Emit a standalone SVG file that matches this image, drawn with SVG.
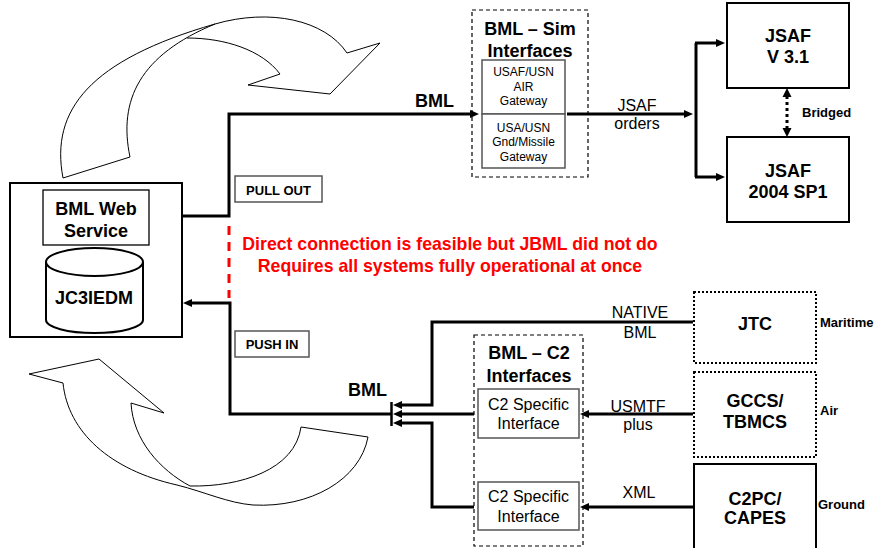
<svg xmlns="http://www.w3.org/2000/svg" width="878" height="548" viewBox="0 0 878 548">
<defs>
<style>
text{font-family:"Liberation Sans",Arial,sans-serif;fill:#000}
.b{font-weight:bold}
.t18{font-size:18px;font-weight:bold;text-anchor:middle}
.t16{font-size:16px;text-anchor:middle}
.t12{font-size:12px;text-anchor:middle}
.t13{font-size:13px;font-weight:bold}
.box{fill:#fff;stroke:#000;stroke-width:2}
.thin{fill:#fff;stroke:#000;stroke-width:1.3}
.gray{fill:#fff;stroke:#555;stroke-width:1.5}
.dash{fill:#fff;stroke:#000;stroke-width:1.2;stroke-dasharray:4 3}
.dot{fill:#fff;stroke:#000;stroke-width:2;stroke-dasharray:2 2}
.con{fill:none;stroke:#000;stroke-width:3}
.curve{fill:none;stroke:#000;stroke-width:1}
</style>
<marker id="ah" viewBox="0 0 9 8" refX="3" refY="4" markerWidth="9" markerHeight="8" markerUnits="userSpaceOnUse" orient="auto">
<path d="M0,0 L9,4 L0,8 z" fill="#000"/>
</marker>
</defs>
<rect width="878" height="548" fill="#fff"/>

<g id="curved-arrows">
<path class="curve" d="M63,178 C50,110 90,60 215,24"/>
<path class="curve" d="M130,157 C118,100 140,55 215,24"/>
<path class="curve" d="M215,24 C270,8 325,20 347,53"/>
<path class="curve" d="M187,38 C225,38 262,50 280,74"/>
<path class="curve" d="M347,53 L380,43 L330,94 L248,85 L280,74"/>
<path class="curve" d="M63,178 L130,157"/>
<path class="curve" d="M63,383 C68,432 110,470 177,485 C205,492 228,503 253,505 C310,508 360,480 368,437"/>
<path class="curve" d="M131,403 C133,440 160,470 190,486 C240,487 295,470 301,427"/>
<path class="curve" d="M63,383 L29,374 L99,359 L164,413 L131,403"/>
<path class="curve" d="M301,427 L368,437"/>
</g>

<g id="bml-web-service">
<rect class="box" x="10" y="183" width="172" height="154"/>
<rect class="thin" x="43" y="190" width="106" height="55"/>
<text x="96" y="215" class="t18">BML Web</text>
<text x="96" y="237" class="t18">Service</text>
<path d="M46,262 V320 A48.5,13 0 0 0 143,320 V262" fill="#fff" stroke="#000" stroke-width="2"/>
<ellipse cx="94.5" cy="262" rx="48.5" ry="14" fill="#fff" stroke="#000" stroke-width="2"/>
<text x="94" y="304" class="t18">JC3IEDM</text>
</g>

<g id="pull-out">
<rect class="gray" x="235" y="176" width="87" height="26"/>
<text x="278.5" y="195" class="t13" text-anchor="middle">PULL OUT</text>
</g>

<g id="push-in">
<rect class="gray" x="235" y="331" width="74" height="26"/>
<text x="272" y="349" class="t13" text-anchor="middle">PUSH IN</text>
</g>

<g id="note">
<text x="450" y="249.5" font-size="17.7" class="b" text-anchor="middle" style="fill:#f00">Direct connection is feasible but JBML did not do</text>
<text x="450" y="271.5" font-size="17.7" class="b" text-anchor="middle" style="fill:#f00">Requires all systems fully operational at once</text>
</g>

<g id="bml-sim-interfaces">
<rect class="dash" x="472" y="10" width="116" height="167"/>
<text x="530" y="35" class="t18">BML – Sim</text>
<text x="530" y="56.5" class="t18">Interfaces</text>
<rect class="gray" x="482" y="60" width="83" height="54"/>
<text x="523.5" y="76" class="t12">USAF/USN</text>
<text x="523.5" y="90.5" class="t12">AIR</text>
<text x="523.5" y="105" class="t12">Gateway</text>
<rect class="gray" x="482" y="114" width="83" height="54"/>
<text x="523.5" y="131.5" class="t12">USA/USN</text>
<text x="523.5" y="146" class="t12">Gnd/Missile</text>
<text x="523.5" y="160.5" class="t12">Gateway</text>
</g>

<g id="jsaf-v31">
<rect class="box" x="727" y="3" width="122" height="85"/>
<text x="788" y="41.5" class="t18">JSAF</text>
<text x="788" y="63.3" class="t18">V 3.1</text>
</g>

<g id="jsaf-2004">
<rect class="box" x="727" y="137" width="122" height="85"/>
<text x="788" y="176.5" class="t18">JSAF</text>
<text x="788" y="198.3" class="t18">2004 SP1</text>
</g>

<g id="bml-c2-interfaces">
<rect class="dash" x="474" y="335" width="109" height="211"/>
<text x="529" y="359" class="t18">BML – C2</text>
<text x="529" y="381.5" class="t18">Interfaces</text>
<rect class="gray" x="478" y="389" width="101" height="49"/>
<text x="528.5" y="409.5" class="t16">C2 Specific</text>
<text x="528.5" y="429.3" class="t16">Interface</text>
<rect class="gray" x="478" y="482" width="101" height="48"/>
<text x="528.5" y="502" class="t16">C2 Specific</text>
<text x="528.5" y="521.7" class="t16">Interface</text>
</g>

<g id="jtc">
<rect class="dot" x="694" y="292" width="122" height="71"/>
<text x="755" y="330" class="t18">JTC</text>
<text x="820" y="327.3" class="t13">Maritime</text>
</g>

<g id="gccs">
<rect class="dot" x="694" y="372" width="122" height="85"/>
<text x="755" y="406.7" class="t18">GCCS/</text>
<text x="755" y="428.3" class="t18">TBMCS</text>
<text x="820" y="415" class="t13">Air</text>
</g>

<g id="c2pc">
<rect class="box" x="694" y="464" width="122" height="86"/>
<text x="755" y="505" class="t18">C2PC/</text>
<text x="755" y="524" class="t18">CAPES</text>
<text x="818" y="509.3" class="t13">Ground</text>
</g>

<g id="connectors">
<path class="con" d="M182,216 H229 V114 H473" marker-end="url(#ah)"/>
<path class="con" d="M567,114 H687" marker-end="url(#ah)"/>
<path class="con" d="M696,43 V177"/>
<path class="con" d="M695,43 H719" marker-end="url(#ah)"/>
<path class="con" d="M695,177 H719" marker-end="url(#ah)"/>
<path d="M787,96 V129" fill="none" stroke="#000" stroke-width="3" stroke-dasharray="3 3"/>
<path d="M787,88 L791.5,97 L782.5,97 z M787,137 L791.5,128 L782.5,128 z" fill="#000"/>
<path class="con" d="M392,414 H230 V303 H189" marker-end="url(#ah)"/>
<path class="con" d="M693,322 H432 V405 H399" marker-end="url(#ah)"/>
<path class="con" d="M474,414 H399" marker-end="url(#ah)"/>
<path class="con" d="M474,507 H432 V423 H399" marker-end="url(#ah)"/>
<path d="M391.5,402 V426" stroke="#000" stroke-width="2.5"/>
<path class="con" d="M693,414 H586" marker-end="url(#ah)"/>
<path class="con" d="M693,507 H586" marker-end="url(#ah)"/>
<path d="M229,226 V298" stroke="#f00" stroke-width="3" stroke-dasharray="9 7"/>
<text x="415" y="107" class="b" font-size="18">BML</text>
<text x="348" y="395.5" class="b" font-size="18">BML</text>
<text x="637" y="111" class="t16">JSAF</text>
<text x="637" y="129" class="t16">orders</text>
<text x="802" y="117" class="t13">Bridged</text>
<text x="640" y="318" class="t16">NATIVE</text>
<text x="640" y="337.5" class="t16">BML</text>
<text x="638" y="411.5" class="t16">USMTF</text>
<text x="638" y="430" class="t16">plus</text>
<text x="639" y="498" class="t16">XML</text>
</g>
</svg>
